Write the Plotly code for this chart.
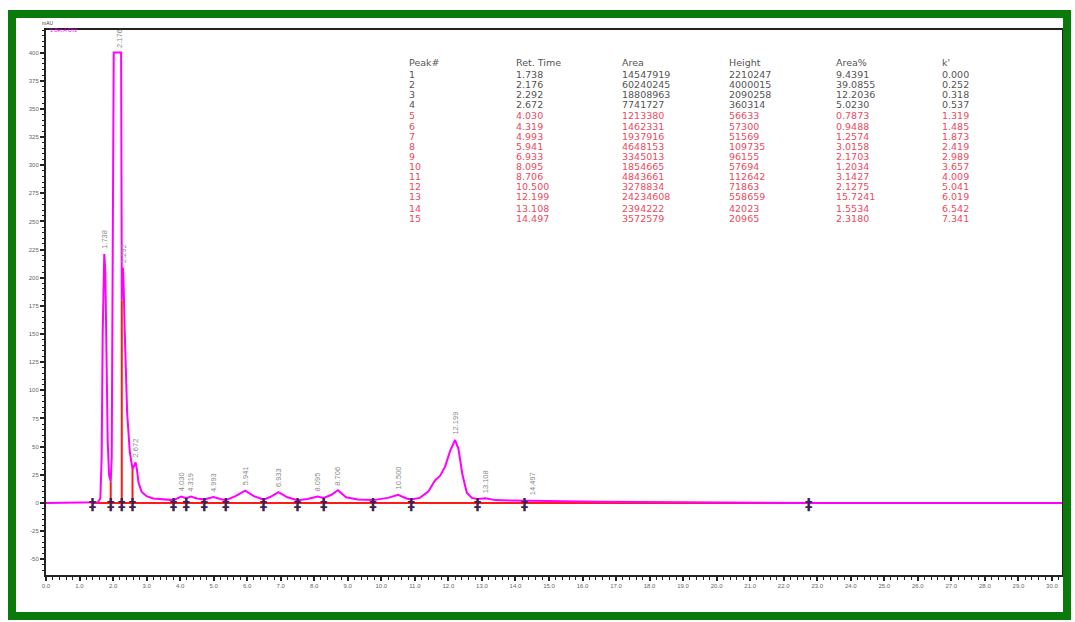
import plotly.graph_objects as go

# ---- peak table ----
peak_no = list(range(1, 16))
ret_time = [1.738, 2.176, 2.292, 2.672, 4.030, 4.319, 4.993, 5.941, 6.933,
            8.095, 8.706, 10.500, 12.199, 13.108, 14.497]
area = [14547919, 60240245, 18808963, 7741727, 1213380, 1462331, 1937916,
        4648153, 3345013, 1854665, 4843661, 3278834, 24234608, 2394222, 3572579]
height = [2210247, 4000015, 2090258, 360314, 56633, 57300, 51569, 109735,
          96155, 57694, 112642, 71863, 558659, 42023, 20965]
area_pct = ["9.4391", "39.0855", "12.2036", "5.0230", "0.7873", "0.9488",
            "1.2574", "3.0158", "2.1703", "1.2034", "3.1427", "2.1275",
            "15.7241", "1.5534", "2.3180"]
k_prime = ["0.000", "0.252", "0.318", "0.537", "1.319", "1.485", "1.873",
           "2.419", "2.989", "3.657", "4.009", "5.041", "6.019", "6.542", "7.341"]

# ---- detector trace between the apexes (min, mAU) ----
trace_t = [0, 1.40, 1.55, 1.62, 1.66, 1.69, 1.71, 1.77, 1.80, 1.84, 1.88, 1.93,
           1.96, 1.98, 2.00, 2.02, 2.24, 2.255, 2.26, 2.275, 2.31, 2.35, 2.42,
           2.50, 2.58, 2.63, 2.71, 2.76, 2.85, 3.0, 3.2, 3.5, 3.8, 4.18, 4.5,
           4.72, 5.2, 5.36, 5.65, 6.2, 6.49, 6.7, 7.2, 7.5, 7.8, 8.28, 8.5,
           8.95, 9.3, 9.75, 10.2, 10.75, 10.89, 11.15, 11.4, 11.6, 11.75, 11.9,
           12.05, 12.3, 12.42, 12.55, 12.7, 12.87, 13.4, 13.9, 14.27, 15.0,
           16.5, 19.0, 22.75, 30.3]
trace_v = [0, 0, 0.5, 4, 40, 150, 205, 205, 130, 55, 25, 19,
           40, 200, 380, 400, 400, 250, 180, 200, 200, 150, 80,
           45, 30, 33, 30, 18, 10, 6, 4, 3, 2.5, 4.2, 4,
           3, 3.5, 2.5, 6, 6, 3, 5.5, 5, 2.5, 3.5, 4.5, 7,
           5, 3, 2.5, 4.5, 4, 3, 4.5, 10, 20, 24, 32,
           46, 48, 25, 9, 4.5, 3.5, 2.5, 2.2, 2, 1.5,
           1, 0.6, 0, 0]

# integration boundaries (min)
bound_t = [1.39, 1.93, 2.26, 2.58, 3.80, 4.18, 4.72, 5.36, 6.49, 7.50, 8.28,
           9.75, 10.89, 12.87, 14.27, 22.75]

# tick values
y_ticks = list(range(-50, 425, 25))
x_ticks = [float(i) for i in range(0, 31)]

# ---- geometry helpers (pixel -> paper) ----
L, R, T, B = 46, 1062, 30, 575
W, H = 1075, 622


def px_x(x):
    return (x - L) / (R - L)


def px_y(y):
    return (B - y) / (B - T)


# merge apexes (height in uV -> mAU) into the trace
apex_v = [h / 10000.0 for h in height]
pts = sorted(list(zip(trace_t, trace_v)) + list(zip(ret_time, apex_v)))
sig_t = [p[0] for p in pts]
sig_v = [p[1] for p in pts]


def sig_at(t):
    for i in range(len(sig_t) - 1):
        if sig_t[i] <= t <= sig_t[i + 1]:
            t0, t1 = sig_t[i], sig_t[i + 1]
            v0, v1 = sig_v[i], sig_v[i + 1]
            if t1 == t0:
                return v0
            return v0 + (v1 - v0) * (t - t0) / (t1 - t0)
    return 0.0


MAG = "#ff00ff"
RED = "#ff1a1a"

fig = go.Figure()

# baseline
fig.add_trace(go.Scatter(x=[bound_t[0], bound_t[-1]], y=[0, 0], mode="lines",
                         line=dict(color=RED, width=2), hoverinfo="skip",
                         showlegend=False))

# chromatogram
fig.add_trace(go.Scatter(x=sig_t, y=sig_v, mode="lines",
                         line=dict(color=MAG, width=2), showlegend=False))

# drop lines between adjacent peaks
for t in bound_t[1:-1]:
    fig.add_trace(go.Scatter(x=[t, t], y=[0, sig_at(t)], mode="lines",
                             line=dict(color=RED, width=2), hoverinfo="skip",
                             showlegend=False))

# boundary marks
fig.add_trace(go.Scatter(x=bound_t, y=[-3] * len(bound_t), mode="text",
                         text=["<b>‡</b>"] * len(bound_t),
                         textfont=dict(size=15, color="#3d2352",
                                       family="DejaVu Sans"),
                         showlegend=False, hoverinfo="skip"))

ann = []
# retention-time labels above peaks
for rt, v in zip(ret_time, apex_v):
    ann.append(dict(x=rt, y=v, xref="x", yref="y", text=f"{rt:.3f}",
                    textangle=-90, showarrow=False, yanchor="bottom",
                    xanchor="center", yshift=3,
                    font=dict(size=7.5, color="#8a8a8a", family="Arial")))

# peak table
col_x = [407, 514, 620, 727, 834, 940]
head = ["Peak#", "Ret. Time", "Area", "Height", "Area%", "k'"]
row_y = [74, 84, 94, 105, 115.5, 126, 136, 146, 156, 166, 177, 187, 197,
         208, 218]
tfont = "DejaVu Sans"
for cx, h in zip(col_x, head):
    ann.append(dict(x=px_x(cx), y=px_y(63), xref="paper", yref="paper",
                    text=h, showarrow=False, xanchor="left", yanchor="middle",
                    font=dict(size=9.5, color="#555555", family=tfont)))
for i in range(len(peak_no)):
    color = "#555555" if i < 4 else "#ee4a5e"
    cells = [str(peak_no[i]), f"{ret_time[i]:.3f}", str(area[i]),
             str(height[i]), area_pct[i], k_prime[i]]
    for cx, c in zip(col_x, cells):
        ann.append(dict(x=px_x(cx), y=px_y(row_y[i]), xref="paper",
                        yref="paper", text=c, showarrow=False,
                        xanchor="left", yanchor="middle",
                        font=dict(size=9.5, color=color, family=tfont)))

# axis unit and channel legend
ann.append(dict(x=px_x(40), y=px_y(23), xref="paper", yref="paper",
                text="mAU", showarrow=False, xanchor="left", yanchor="middle",
                font=dict(size=5, color="#444444", family="Arial")))
ann.append(dict(x=px_x(48), y=px_y(30), xref="paper", yref="paper",
                text="1 Det.A Ch1", showarrow=False, xanchor="left",
                yanchor="middle",
                font=dict(size=5, color=MAG, family="Arial")))

shapes = [dict(type="rect", xref="paper", yref="paper",
               x0=px_x(12), x1=px_x(1067), y0=px_y(616), y1=px_y(14),
               line=dict(color="#0a7a0a", width=8), layer="above")]

axis_common = dict(showgrid=False, zeroline=False, showline=True,
                   linecolor="#222222", linewidth=2, mirror=True,
                   ticks="outside", ticklen=4, tickwidth=1.5,
                   tickcolor="#222222")

fig.update_layout(
    width=W, height=H, autosize=False,
    margin=dict(l=L, r=W - R, t=T, b=H - B, pad=0),
    paper_bgcolor="white", plot_bgcolor="white",
    annotations=ann, shapes=shapes, showlegend=False,
    xaxis=dict(range=[0, 30.3], tickvals=x_ticks,
               ticktext=[f"{v:.1f}" for v in x_ticks],
               tickfont=dict(size=6, color="#666666", family="Arial"),
               minor=dict(ticks="outside", dtick=0.2, ticklen=2.5,
                          tickcolor="#222222", tickwidth=1.2),
               **axis_common),
    yaxis=dict(range=[-64, 420], tickvals=y_ticks,
               ticktext=[str(v) for v in y_ticks],
               tickfont=dict(size=6, color="#666666", family="Arial"),
               minor=dict(ticks="outside", dtick=5, ticklen=2.5,
                          tickcolor="#222222", tickwidth=1.2),
               **axis_common),
)

fig.write_html("out.html")
